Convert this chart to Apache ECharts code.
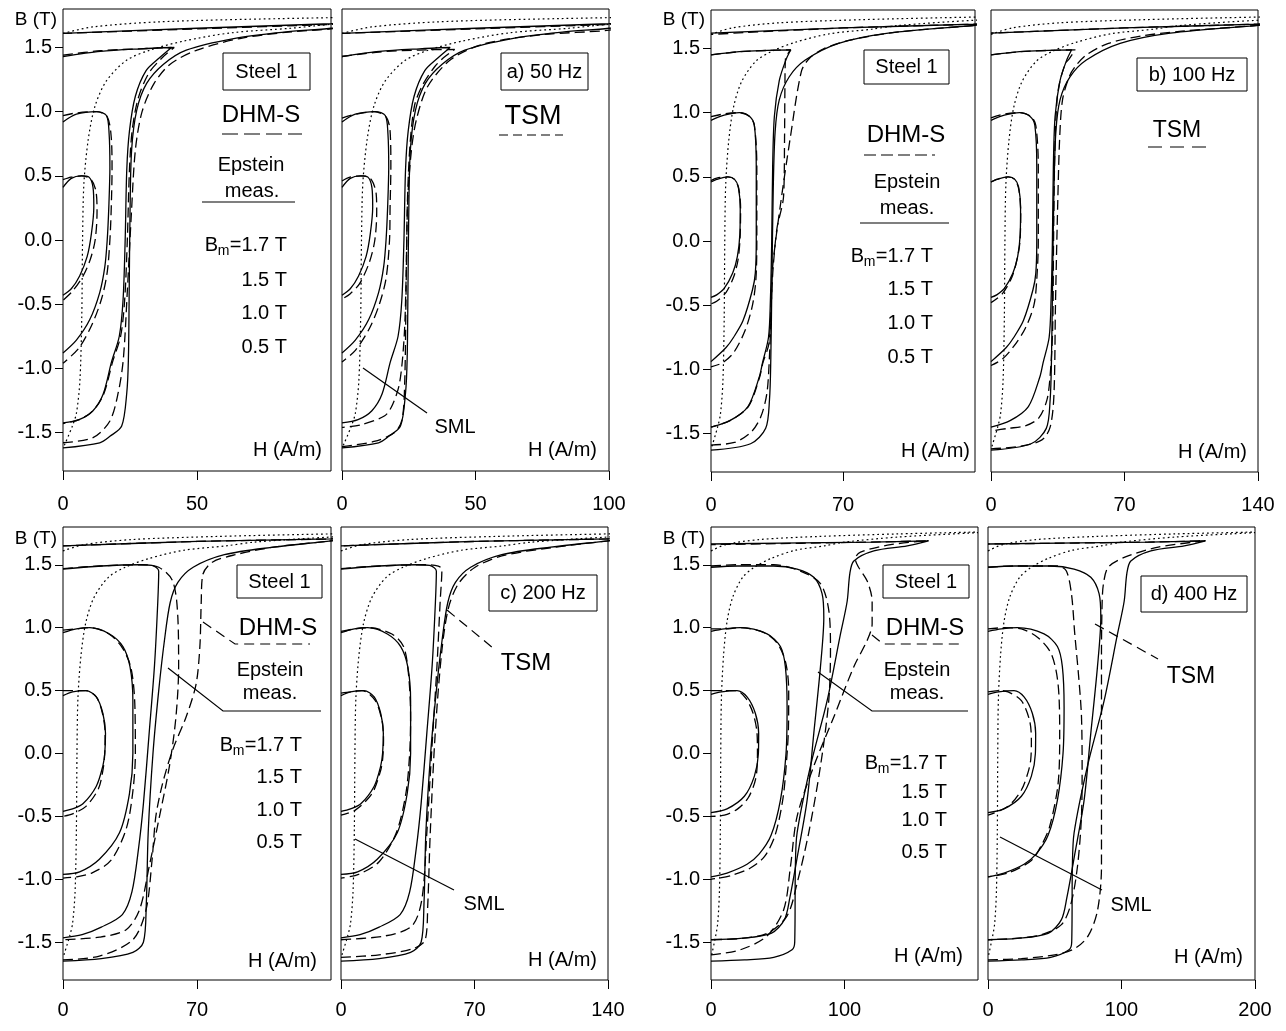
<!DOCTYPE html>
<html>
<head>
<meta charset="utf-8">
<script src="https://cdn.jsdelivr.net/npm/echarts@6/dist/echarts.min.js"></script>
<style>
  html, body { margin: 0; padding: 0; background: #fff; }
  #chart { width: 1286px; height: 1031px; }
</style>
</head>
<body>
<div id="chart"></div>
<script>
// static magnetization loop (dotted), same in every panel
const smlRise = [[0.5,-1.6],[3.5,-1.45],[5,-1.35],[6.3,-1.1],[7,-0.6],[7.3,0],[7.8,0.44],[9.4,0.78],[11.9,1.04],[16.2,1.24],[23.7,1.4],[32.5,1.48],[45,1.55],[63,1.615],[85,1.65],[100,1.68],[140,1.72],[200,1.755]];
const smlTop = [[0,1.61],[11,1.66],[36,1.7],[81,1.725],[140,1.745],[200,1.76]];

// 50 Hz
const ep50_05 = [[0,0.41],[3.1,0.48],[6.9,0.5],[9.7,0.49],[11.2,0.41],[11.5,0.26],[10.6,0.05],[9,-0.13],[6.2,-0.28],[3.1,-0.38],[0,-0.43]];
const ep50_10 = [[0,0.92],[5,0.98],[12.5,1.0],[16.2,0.97],[17.2,0.83],[17.5,0.57],[17.1,0.26],[16.5,0],[15.6,-0.21],[13.7,-0.41],[10,-0.62],[5,-0.78],[0,-0.88]];
const ep50_15 = [[0,1.43],[14,1.47],[29,1.49],[40.5,1.5],[36,1.42],[31,1.32],[27,1.12],[24.8,0.85],[23.8,0.55],[23.2,0],[22.4,-0.47],[21,-0.75],[18.1,-0.95],[15,-1.2],[11.2,-1.33],[6,-1.4],[0,-1.425]];
const ep50_17 = [[0,-1.62],[13.7,-1.58],[17.5,-1.53],[21.9,-1.45],[23.8,-1.19],[24.4,-0.93],[24.7,-0.4],[25,0.2],[25.6,0.7],[27.5,1.01],[31.2,1.22],[37.5,1.37],[46,1.48],[63.7,1.57],[82.5,1.62],[100,1.65],[118,1.7],[100,1.685],[50,1.65],[0,1.61]];
const dhm50_05 = [[0,0.47],[3,0.49],[7,0.5],[10.5,0.47],[12.3,0.38],[12.7,0.22],[12,0],[10.2,-0.15],[7.5,-0.28],[3.5,-0.4],[0,-0.47]];
const dhm50_10 = [[0,0.97],[5,0.99],[12.5,1.0],[16.5,0.96],[18,0.8],[18.3,0.55],[18,0.25],[17.5,0],[16.5,-0.25],[14.5,-0.45],[11,-0.65],[6,-0.84],[0,-0.96]];
const dhm50_15 = [[0,1.44],[14,1.475],[29,1.49],[41.5,1.5],[37,1.42],[32,1.3],[28,1.1],[25.8,0.85],[24.8,0.55],[24,0],[23,-0.47],[21.5,-0.75],[18.5,-0.95],[15.2,-1.2],[11.2,-1.33],[6,-1.4],[0,-1.43]];
const dhm50_17 = [[0,-1.58],[11.2,-1.54],[17.5,-1.41],[20.6,-1.19],[22.5,-0.93],[24,-0.4],[25.5,0.2],[27,0.7],[29.5,1.0],[34,1.22],[40,1.37],[50,1.48],[66,1.57],[84,1.62],[100,1.645],[118,1.7],[100,1.68],[50,1.645],[0,1.61]];
const tsm50_05 = [[0,0.46],[3,0.49],[8,0.5],[11,0.47],[12.8,0.36],[13,0.22],[12.3,0],[10.3,-0.17],[6.6,-0.34],[3,-0.42],[0,-0.46]];
const tsm50_10 = [[0,0.95],[5,0.98],[12,1.0],[16.5,0.96],[18,0.85],[18.3,0.57],[18,0.25],[17.8,0],[16.5,-0.3],[14,-0.5],[10.5,-0.68],[5,-0.86],[0,-0.95]];
const tsm50_15 = [[0,1.43],[14,1.465],[29,1.48],[42.2,1.485],[38,1.42],[34.7,1.35],[30,1.2],[27.2,1.05],[25.5,0.75],[24.5,0.3],[24,-0.3],[23.3,-0.75],[21.6,-1.11],[19,-1.28],[16,-1.37],[7,-1.44],[0,-1.46]];
const tsm50_17 = [[0,-1.61],[12,-1.57],[19.7,-1.5],[22.5,-1.4],[23.5,-1.1],[24,-0.4],[24.6,0.3],[26,0.7],[28,0.95],[32.2,1.2],[41,1.41],[53.5,1.53],[75,1.6],[100,1.635],[118,1.7],[100,1.68],[50,1.645],[0,1.61]];

// 100 Hz
const ep100_05 = [[0,0.46],[3,0.48],[9,0.5],[12.5,0.48],[14.5,0.42],[15.5,0.25],[15.3,0.05],[14,-0.12],[11.5,-0.25],[7,-0.37],[3,-0.42],[0,-0.44]];
const ep100_10 = [[0,0.94],[7,0.98],[15,1.0],[20.5,0.97],[23,0.9],[24,0.58],[24,0],[23.5,-0.25],[22,-0.38],[17,-0.62],[12,-0.75],[8,-0.83],[0,-0.94]];
const ep100_15 = [[0,1.45],[15,1.475],[30,1.485],[42.3,1.49],[39.7,1.41],[36.2,1.25],[33.6,0.97],[32.7,0.58],[32.2,0],[31.5,-0.46],[30.5,-0.75],[27.3,-0.95],[25.6,-1.06],[19.6,-1.29],[10,-1.4],[0,-1.45]];
const ep100_17 = [[0,-1.63],[21,-1.58],[29,-1.46],[31,-1.24],[31.7,-0.93],[32.3,-0.3],[33,0.4],[34,0.85],[36.2,1.1],[41.5,1.28],[50,1.41],[67.7,1.54],[94,1.62],[140,1.68],[155,1.7],[140,1.69],[70,1.66],[0,1.62]];
const dhm100_05 = [[0,0.47],[3,0.49],[9,0.5],[12.5,0.48],[14.7,0.41],[15.7,0.25],[15.4,0.02],[14.3,-0.15],[12,-0.28],[8,-0.4],[3,-0.47],[0,-0.49]];
const dhm100_10 = [[0,0.97],[7,0.99],[15,1.0],[20.5,0.97],[23,0.9],[24.3,0.58],[24.3,0],[23.8,-0.3],[22,-0.5],[18,-0.7],[12,-0.87],[6,-0.95],[0,-0.98]];
const dhm100_15 = [[0,1.45],[15,1.475],[30,1.485],[42.3,1.49],[39.5,1.42],[39.2,1.2],[39,0.8],[38.5,0.35],[35,0.1],[33,-0.2],[32,-0.46],[30.7,-0.8],[27.5,-0.95],[25.8,-1.06],[19.8,-1.29],[10,-1.4],[0,-1.45]];
const dhm100_17 = [[0,-1.59],[12.4,-1.57],[21.2,-1.49],[26.4,-1.37],[29.6,-1.19],[30.9,-0.93],[32,-0.5],[32.7,-0.2],[37,0.3],[42,0.8],[47.9,1.32],[52,1.42],[60,1.5],[75,1.57],[100,1.63],[140,1.68],[155,1.7],[140,1.69],[70,1.66],[0,1.61]];
const tsm100_05 = [[0,0.46],[3,0.48],[9,0.5],[12.5,0.48],[14.6,0.4],[15.6,0.22],[15.2,0],[14,-0.12],[11,-0.28],[6,-0.41],[0,-0.48]];
const tsm100_10 = [[0,0.96],[7,0.99],[15,1.0],[21,0.97],[23.5,0.9],[24.8,0.58],[24.8,0],[24,-0.3],[22.5,-0.5],[18,-0.68],[12,-0.82],[6,-0.92],[0,-0.97]];
const tsm100_15 = [[0,1.45],[15,1.475],[30,1.485],[44.2,1.49],[41,1.42],[38.9,1.38],[35.5,1.2],[34.2,1.0],[33.3,0.58],[32.8,0],[32.3,-0.7],[31,-1.05],[29.3,-1.24],[25,-1.38],[18,-1.44],[9,-1.46],[0,-1.48]];
const tsm100_17 = [[0,-1.62],[15,-1.6],[26.7,-1.55],[31,-1.45],[33,-1.2],[33.8,-0.5],[35,0.3],[36,0.8],[37.5,1.1],[41,1.28],[44.2,1.36],[50,1.45],[61.6,1.54],[80,1.6],[100,1.635],[140,1.68],[155,1.7],[140,1.69],[70,1.66],[0,1.62]];

// 200 Hz
const ep200_05 = [[0,0.46],[5,0.49],[12,0.5],[17.4,0.45],[20.8,0.32],[22.2,0.16],[21.8,0],[20.8,-0.1],[17.4,-0.26],[10.4,-0.4],[5,-0.44],[0,-0.46]];
const ep200_10 = [[0,0.96],[7,0.99],[14,1.0],[24.3,0.95],[31.3,0.85],[35,0.69],[36.5,0.42],[36.5,0],[34.7,-0.32],[29.5,-0.63],[19,-0.84],[8.7,-0.94],[0,-0.96]];
const ep200_15 = [[0,1.465],[20,1.49],[40,1.5],[46.5,1.495],[50,1.45],[49.5,1.2],[47.8,0.7],[45,0.16],[42,-0.4],[39.5,-0.75],[36,-1.1],[31,-1.28],[20,-1.38],[10,-1.44],[0,-1.465]];
const ep200_17 = [[0,-1.65],[20,-1.63],[36.5,-1.58],[42,-1.5],[43.5,-1.2],[44.5,-0.63],[47,0],[50,0.5],[53,0.9],[56,1.2],[60,1.36],[68,1.48],[84.3,1.58],[110,1.64],[140,1.69],[150,1.71],[140,1.705],[70,1.685],[0,1.65]];
const dhm200_05 = [[0,0.5],[5,0.5],[12,0.5],[17.4,0.45],[20.6,0.32],[22,0.16],[21.8,0],[21,-0.12],[18.5,-0.28],[12,-0.42],[5,-0.48],[0,-0.5]];
const dhm200_10 = [[0,0.98],[7,0.99],[14,1.0],[24,0.95],[31,0.84],[35.5,0.68],[37.5,0.4],[37.8,0],[36.5,-0.3],[33,-0.6],[25,-0.85],[15,-0.95],[7,-0.98],[0,-0.99]];
const dhm200_15 = [[0,1.47],[19,1.49],[40,1.5],[50,1.48],[57.3,1.37],[60,1.08],[60.4,0.69],[59,0.29],[55.6,-0.1],[50.4,-0.5],[45,-0.9],[40,-1.24],[33,-1.4],[19,-1.46],[0,-1.48]];
const dhm200_17 = [[0,-1.64],[19,-1.61],[36.5,-1.48],[43.4,-1.24],[46.5,-0.85],[48.5,-0.5],[52,-0.24],[57.3,0.03],[64.3,0.29],[69.5,0.55],[71.5,0.85],[72.2,1.2],[73,1.42],[78,1.52],[90,1.58],[110,1.64],[140,1.69],[150,1.71],[140,1.705],[70,1.685],[0,1.65]];
const tsm200_05 = [[0,0.48],[5,0.49],[11,0.5],[18,0.42],[21.5,0.26],[22.3,0.11],[21.8,-0.05],[20.5,-0.15],[16.2,-0.32],[7.5,-0.45],[0,-0.49]];
const tsm200_10 = [[0,0.97],[7,0.99],[14.5,1.0],[26.7,0.95],[32.8,0.85],[35.4,0.63],[36.5,0.29],[36,0],[34,-0.32],[29,-0.63],[20,-0.86],[9.2,-0.96],[0,-0.99]];
const tsm200_15 = [[0,1.47],[20,1.49],[45,1.5],[51,1.49],[52.9,1.465],[52,1.21],[50.3,0.69],[47.6,0.03],[45,-0.63],[42.4,-1.16],[37.2,-1.37],[23,-1.45],[0,-1.48]];
const tsm200_17 = [[0,-1.62],[20,-1.6],[38,-1.55],[44.2,-1.48],[45.5,-1.2],[46.8,-0.63],[49.4,0.16],[52.9,0.82],[56.4,1.16],[61.6,1.35],[70.3,1.48],[84.3,1.57],[110,1.635],[140,1.69],[150,1.71],[140,1.705],[70,1.685],[0,1.65]];

// 400 Hz
const ep400_05 = [[0,0.47],[8,0.49],[19.5,0.5],[27,0.45],[33.2,0.32],[35.7,0.16],[35.5,0],[32.5,-0.18],[25,-0.34],[12,-0.44],[0,-0.47]];
const ep400_10 = [[0,0.97],[10,0.99],[22,1.0],[42,0.95],[52,0.85],[55.7,0.69],[57,0.37],[56.2,0],[52,-0.37],[45,-0.65],[36,-0.8],[27,-0.88],[12,-0.95],[0,-0.98]];
const ep400_15 = [[0,1.48],[20,1.49],[47,1.49],[64.5,1.465],[77,1.4],[83.2,1.27],[84.5,1.08],[82,0.69],[77,0.16],[72,-0.37],[65,-0.8],[59,-1.15],[55,-1.32],[45,-1.43],[22,-1.47],[0,-1.48]];
const ep400_17 = [[0,-1.65],[25,-1.64],[47,-1.62],[60.7,-1.56],[62.7,-1.5],[63.2,-0.9],[64.5,-0.63],[74.5,-0.1],[87,0.42],[97,0.95],[102,1.21],[104,1.43],[107,1.53],[122,1.61],[147,1.65],[163,1.69],[120,1.68],[0,1.665]];
const dhm400_05 = [[0,0.5],[8,0.5],[19,0.5],[26,0.44],[31.5,0.32],[34.5,0.16],[34.8,0],[33.5,-0.2],[28,-0.35],[20,-0.44],[10,-0.49],[0,-0.5]];
const dhm400_10 = [[0,0.99],[10,0.99],[22,1.0],[40,0.96],[50,0.87],[56,0.72],[58.2,0.5],[58,0.2],[57,0],[54,-0.35],[48,-0.65],[40,-0.82],[29.5,-0.91],[15,-0.97],[0,-1.0]];
const dhm400_15 = [[0,1.49],[20,1.5],[47,1.5],[67,1.45],[82,1.35],[88.2,1.14],[89.5,0.82],[88.2,0.42],[82,-0.1],[73.2,-0.63],[64.5,-1.03],[57,-1.29],[42,-1.43],[22,-1.47],[0,-1.48]];
const dhm400_17 = [[0,-1.6],[22,-1.56],[42,-1.45],[54.5,-1.24],[59.5,-0.9],[64.5,-0.5],[77,-0.1],[92,0.29],[107,0.69],[117,0.9],[120.7,1.03],[120.7,1.21],[117,1.37],[110,1.49],[108,1.55],[112,1.6],[134.5,1.66],[162,1.69],[120,1.68],[0,1.66]];
const tsm400_05 = [[0,0.49],[8,0.5],[15,0.49],[25,0.42],[31.2,0.26],[32.5,0.1],[32,-0.05],[30,-0.15],[25,-0.29],[15,-0.42],[0,-0.49]];
const tsm400_10 = [[0,0.99],[12.5,1.0],[25,0.99],[37.5,0.92],[47.5,0.79],[52.5,0.55],[53.7,0.16],[52.5,-0.24],[46.2,-0.58],[40,-0.73],[32.5,-0.85],[15,-0.95],[0,-0.98]];
const tsm400_15 = [[0,1.48],[20,1.49],[52.5,1.49],[58.7,1.45],[62.5,1.27],[65,0.95],[68,0.6],[70,0.3],[70.5,-0.1],[70,-0.5],[67,-0.9],[62,-1.2],[55,-1.36],[40,-1.44],[20,-1.47],[0,-1.48]];
const tsm400_17 = [[0,-1.64],[25,-1.63],[50,-1.6],[65,-1.55],[75,-1.45],[82,-1.25],[85,-0.9],[85,0],[85,0.8],[85.5,1.2],[86.5,1.35],[90,1.48],[102.5,1.56],[127.5,1.64],[162.5,1.69],[120,1.68],[0,1.665]];

const hMax = [100, 140, 140, 200];
const hStep = [50, 70, 70, 100];
const bTicks = [-1.5, -1.0, -0.5, 0, 0.5, 1.0, 1.5];

const epstein = [
  [ep50_05, ep50_10, ep50_15, ep50_17],
  [ep100_05, ep100_10, ep100_15, ep100_17],
  [ep200_05, ep200_10, ep200_15, ep200_17],
  [ep400_05, ep400_10, ep400_15, ep400_17]
];
const dhm = [
  [dhm50_05, dhm50_10, dhm50_15, dhm50_17],
  [dhm100_05, dhm100_10, dhm100_15, dhm100_17],
  [dhm200_05, dhm200_10, dhm200_15, dhm200_17],
  [dhm400_05, dhm400_10, dhm400_15, dhm400_17]
];
const tsm = [
  [tsm50_05, tsm50_10, tsm50_15, tsm50_17],
  [tsm100_05, tsm100_10, tsm100_15, tsm100_17],
  [tsm200_05, tsm200_10, tsm200_15, tsm200_17],
  [tsm400_05, tsm400_10, tsm400_15, tsm400_17]
];

const ff = "'Liberation Sans', Arial, sans-serif";

// panel boxes [left, top, width, height], frequency index, side
const panels = [
  { box: [63, 9, 268, 462], f: 0, left: true },
  { box: [342, 9, 267, 462], f: 0, left: false },
  { box: [711, 10, 264, 462], f: 1, left: true },
  { box: [991, 10, 267, 462], f: 1, left: false },
  { box: [63, 527, 268, 453], f: 2, left: true },
  { box: [341, 527, 267, 453], f: 2, left: false },
  { box: [711, 527, 267, 453], f: 3, left: true },
  { box: [988, 527, 267, 453], f: 3, left: false }
];

const grid = [], xAxis = [], yAxis = [], series = [];

panels.forEach((p, i) => {
  const top = p.box[1] < 100;
  grid.push({
    left: p.box[0], top: p.box[1], width: p.box[2], height: p.box[3],
    show: true, borderColor: '#000', borderWidth: 1, backgroundColor: 'transparent'
  });
  const xt = p.left ? [0, hStep[p.f]] : [0, hStep[p.f], hMax[p.f]];
  xAxis.push({
    gridIndex: i, type: 'value', min: 0, max: hMax[p.f], position: 'bottom',
    axisLine: { show: false, onZero: false },
    splitLine: { show: false },
    axisTick: { show: true, customValues: xt, length: 9, lineStyle: { color: '#000', width: 1 } },
    axisLabel: { customValues: xt, fontSize: 20, color: '#000', fontFamily: ff, margin: top ? 23 : 20 }
  });
  yAxis.push({
    gridIndex: i, type: 'value', min: -1.8, max: 1.8, position: 'left',
    axisLine: { show: false, onZero: false },
    splitLine: { show: false },
    axisTick: { show: p.left, customValues: bTicks, length: 8, lineStyle: { color: '#000', width: 1 } },
    axisLabel: {
      show: p.left, customValues: bTicks, fontSize: 20, color: '#000', fontFamily: ff, margin: 11,
      formatter: v => Number(v).toFixed(1)
    }
  });

  const line = (data, type, w) => ({
    type: 'line', xAxisIndex: i, yAxisIndex: i, data: data,
    showSymbol: false, symbol: 'none', smooth: 0.3, silent: true, clip: true,
    lineStyle: { color: '#000', width: w, type: type }
  });
  series.push(line(smlRise, [1.8, 3], 1.2));
  series.push(line(smlTop, [1.8, 3], 1.2));
  epstein[p.f].forEach(d => series.push(line(d, 'solid', 1.3)));
  (p.left ? dhm[p.f] : tsm[p.f]).forEach(d => series.push(line(d, [10, 5], 1.3)));
});

// annotation helpers
const txt = (x, y, s, size, align) => ({
  type: 'text', x: x, y: y, z: 100,
  style: { text: s, fontSize: size, fontFamily: ff, fill: '#000', align: align || 'center', verticalAlign: 'middle' }
});
const box = (x, y, w, h) => ({
  type: 'rect', z: 99, shape: { x: x, y: y, width: w, height: h },
  style: { fill: '#fff', stroke: '#000', lineWidth: 1 }
});
const seg = (pts, dash) => ({
  type: 'polyline', z: 100, shape: { points: pts },
  style: { stroke: '#000', lineWidth: 1.2, fill: null, lineDash: dash || null }
});
const bm = (xr, y) => [
  txt(xr, y, '=1.7 T', 20, 'right'),
  txt(xr - 57.5, y + 6, 'm', 14, 'right'),
  txt(xr - 69, y, 'B', 20, 'right')
];
const levels = (xr, ys) => [
  ...bm(xr, ys[0]),
  txt(xr, ys[1], '1.5 T', 20, 'right'),
  txt(xr, ys[2], '1.0 T', 20, 'right'),
  txt(xr, ys[3], '0.5 T', 20, 'right')
];

const graphic = [
  // a) 50 Hz
  txt(57, 20, 'B (T)', 19, 'right'),
  box(223, 53, 87, 37), txt(266.5, 72, 'Steel 1', 20),
  txt(261, 115, 'DHM-S', 24), seg([[222, 134], [302, 134]], [16, 6]),
  txt(251, 165, 'Epstein', 20), txt(252, 191, 'meas.', 20), seg([[202, 202], [295, 202]]),
  ...levels(287, [245, 280, 313, 347]),
  txt(322, 450, 'H (A/m)', 20, 'right'),
  box(501, 53, 87, 37), txt(544.5, 72, 'a) 50 Hz', 20),
  txt(533, 117, 'TSM', 27), seg([[499, 135], [563, 135]], [9, 5]),
  txt(455, 427, 'SML', 20), seg([[363, 368], [427, 413]]),
  txt(597, 450, 'H (A/m)', 20, 'right'),
  // b) 100 Hz
  txt(705, 20, 'B (T)', 19, 'right'),
  box(864, 50, 85, 34), txt(906.5, 67, 'Steel 1', 20),
  txt(906, 135, 'DHM-S', 24), seg([[864, 155], [935, 155]], [12, 5]),
  txt(907, 182, 'Epstein', 20), txt(907, 208, 'meas.', 20), seg([[860, 223], [949, 223]]),
  ...levels(933, [256, 289, 323, 357]),
  txt(970, 451, 'H (A/m)', 20, 'right'),
  box(1137, 58, 110, 33), txt(1192, 75, 'b) 100 Hz', 20),
  txt(1177, 131, 'TSM', 23), seg([[1148, 147], [1211, 147]], [14, 8]),
  txt(1247, 452, 'H (A/m)', 20, 'right'),
  // c) 200 Hz
  txt(57, 539, 'B (T)', 19, 'right'),
  box(237, 565, 85, 33), txt(279.5, 582, 'Steel 1', 20),
  txt(278, 628, 'DHM-S', 24), seg([[203, 622], [235, 644], [310, 644]], [10, 6]),
  txt(270, 670, 'Epstein', 20), txt(270, 693, 'meas.', 20), seg([[168, 668], [223, 711], [321, 711]]),
  ...levels(302, [745, 777, 810, 842]),
  txt(317, 961, 'H (A/m)', 20, 'right'),
  box(489, 575, 108, 36), txt(543, 593, 'c) 200 Hz', 20),
  txt(526, 663, 'TSM', 24), seg([[447, 610], [493, 648]], [10, 6]),
  txt(484, 904, 'SML', 20), seg([[355, 839], [454, 890]]),
  txt(597, 960, 'H (A/m)', 20, 'right'),
  // d) 400 Hz
  txt(705, 539, 'B (T)', 19, 'right'),
  box(883, 565, 86, 33), txt(926, 582, 'Steel 1', 20),
  txt(925, 628, 'DHM-S', 24), seg([[872, 635], [883, 644], [962, 644]], [10, 6]),
  txt(917, 670, 'Epstein', 20), txt(917, 693, 'meas.', 20), seg([[818, 672], [872, 711], [968, 711]]),
  ...levels(947, [763, 792, 820, 852]),
  txt(963, 956, 'H (A/m)', 20, 'right'),
  box(1141, 576, 106, 36), txt(1194, 594, 'd) 400 Hz', 20),
  txt(1191, 677, 'TSM', 23), seg([[1095, 624], [1158, 659]], [10, 6]),
  txt(1131, 905, 'SML', 20), seg([[1000, 837], [1102, 890]]),
  txt(1243, 957, 'H (A/m)', 20, 'right')
];

const chart = echarts.init(document.getElementById('chart'), null, { renderer: 'canvas' });
chart.setOption({
  animation: false,
  backgroundColor: '#fff',
  grid: grid,
  xAxis: xAxis,
  yAxis: yAxis,
  series: series,
  graphic: graphic
});
</script>
</body>
</html>
